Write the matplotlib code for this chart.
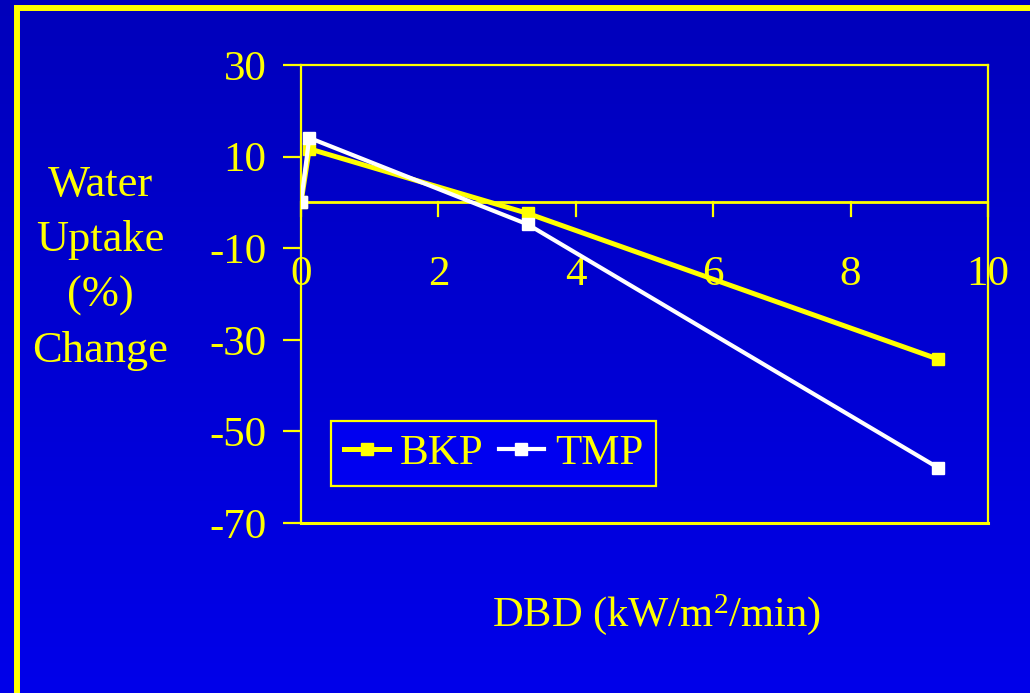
import numpy as np
import matplotlib
matplotlib.use("Agg")
import matplotlib.pyplot as plt
from matplotlib.patches import Rectangle

# Data
bkp_x = [0.0, 0.12, 3.30, 9.27]
bkp_y = [0.0, 11.7, -2.4, -34.2]
tmp_x = [0.0, 0.12, 3.30, 9.27]
tmp_y = [0.0, 14.1, -4.8, -57.9]
x_ticks = [0, 2, 4, 6, 8, 10]
y_ticks = [30, 10, -10, -30, -50, -70]
series_names = ["BKP", "TMP"]

YELLOW = "#FFFF00"
FONT = "Liberation Serif"
plt.rcParams["font.family"] = [FONT, "DejaVu Serif"]
plt.rcParams["mathtext.fontset"] = "custom"
plt.rcParams["mathtext.rm"] = FONT
plt.rcParams["mathtext.default"] = "regular"

W, H = 1030, 693
fig = plt.figure(figsize=(W / 100, H / 100), dpi=100)

# background gradient
bg = fig.add_axes([0, 0, 1, 1], zorder=-10)
grad = np.linspace(0, 1, 256).reshape(-1, 1)
top = np.array([0, 0, 187]) / 255
bot = np.array([0, 0, 234]) / 255
img = top[None, None, :] * (1 - grad[:, :, None]) + bot[None, None, :] * grad[:, :, None]
bg.imshow(img, aspect="auto", extent=[0, 1, 0, 1], origin="upper")
bg.set_xlim(0, 1); bg.set_ylim(0, 1)
bg.axis("off")

# yellow border (extends past right/bottom edge)
border = Rectangle((16.5 / W, -0.1), 1.2, 1 - 8 / H + 0.1, transform=fig.transFigure,
                   fill=False, edgecolor=YELLOW, linewidth=4.3, zorder=-5)
fig.patches.append(border)

L, R, T, B = 301, 988, 65, 523
ax = fig.add_axes([L / W, 1 - B / H, (R - L) / W, (B - T) / H])
ax.patch.set_alpha(0)
ax.set_xlim(0, 10)
ax.set_ylim(-70, 30)

for s in ax.spines.values():
    s.set_color(YELLOW)
    s.set_linewidth(1.6)
ax.spines["bottom"].set_visible(False)
ax.axhline(-70, color=YELLOW, lw=2.2, clip_on=False, zorder=1)
ax.axhline(0, color=YELLOW, lw=2.0, zorder=1)

ax.set_yticks(y_ticks)
ax.set_yticklabels([str(v) for v in y_ticks])
ax.tick_params(axis="y", colors=YELLOW, labelcolor=YELLOW, labelsize=31,
               length=13, width=1.6, direction="out", pad=12)

ax.set_xticks([])
for xv in x_ticks:
    ax.plot([xv, xv], [0, -3.0], color=YELLOW, lw=1.6, zorder=1, clip_on=False)
    ax.text(xv, -15.8, str(xv), ha="center", va="center", fontsize=31, color=YELLOW)

ax.plot(bkp_x, bkp_y, color=YELLOW, lw=3.6, marker="s", markersize=9,
        markerfacecolor=YELLOW, markeredgecolor=YELLOW, label=series_names[0], zorder=3)
ax.plot(tmp_x, tmp_y, color="white", lw=3.0, marker="s", markersize=9,
        markerfacecolor="white", markeredgecolor="white", label=series_names[1], zorder=4)

leg = ax.legend(loc="lower left", bbox_to_anchor=(0.0437, 0.081), ncol=2,
                frameon=True, fancybox=False, fontsize=31, borderaxespad=0,
                handlelength=1.05, handletextpad=0.25, columnspacing=0.35,
                borderpad=0.3, labelcolor=YELLOW)
fr = leg.get_frame()
fr.set_facecolor((0, 0, 240 / 255))
fr.set_edgecolor(YELLOW)
fr.set_linewidth(1.6)
fr.set_alpha(1)

fig.text(100 / W, 1 - 268 / H, "Water\nUptake\n(%)\nChange", ha="center", va="center",
         fontsize=32, color=YELLOW, linespacing=1.48)
fig.text(657 / W, 1 - 615 / H, "DBD (kW/m$^{2}$/min)", ha="center", va="center",
         fontsize=30.6, color=YELLOW)

fig.savefig("out.png", dpi=100)
